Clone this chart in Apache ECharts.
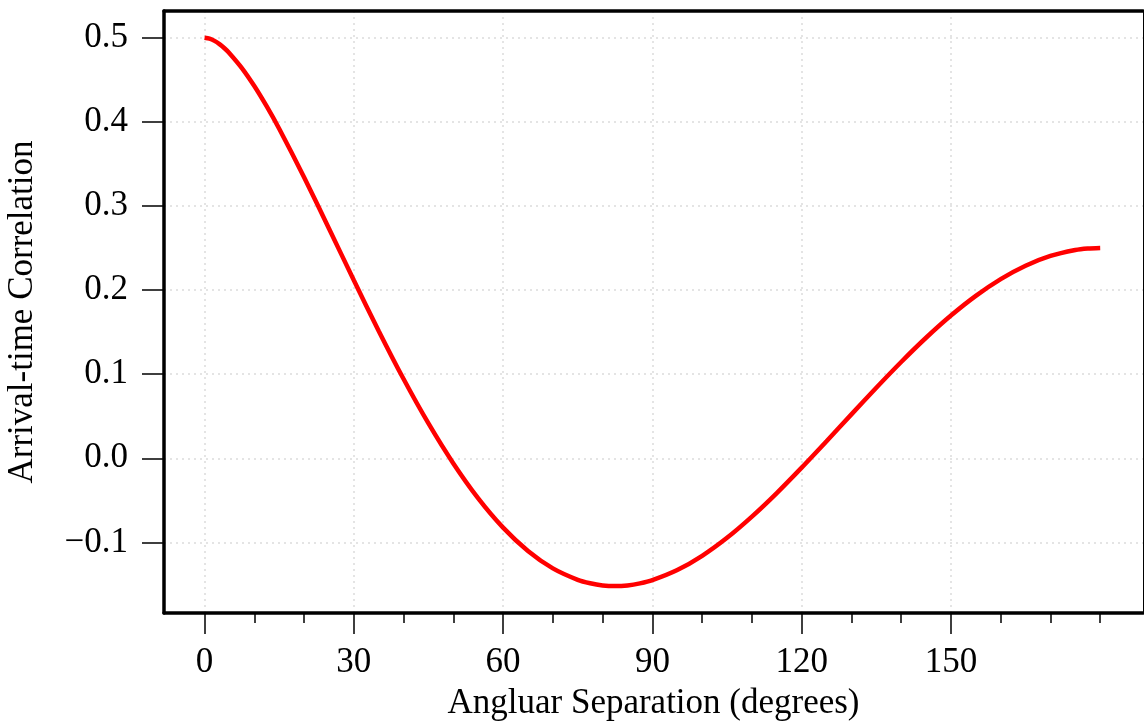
<!DOCTYPE html>
<html>
<head>
<meta charset="utf-8">
<script src="https://cdn.jsdelivr.net/npm/echarts@6/dist/echarts.min.js"></script>
<style>
html,body{margin:0;padding:0;background:#fff;}
#chart{width:1144px;height:723px;}
</style>
</head>
<body>
<div id="chart"></div>
<script>
var angles = [0,1,2,3,4,5,7.5,10,12.5,15,20,25,30,35,40,45,50,55,60,65,70,75,77.5,80,82.5,85,87.5,90,95,100,105,110,115,120,125,130,135,140,145,150,155,160,165,170,175,177.5,180];
var correlation = [0.5,0.4989,0.4962,0.4923,0.4874,0.4816,0.4639,0.4425,0.4182,0.3917,0.3341,0.2732,0.2116,0.1514,0.0942,0.0414,-0.0061,-0.0476,-0.0824,-0.1102,-0.1309,-0.1445,-0.1486,-0.1511,-0.1519,-0.1511,-0.1487,-0.1449,-0.1329,-0.1159,-0.0945,-0.0693,-0.0413,-0.0111,0.0203,0.0522,0.0839,0.1145,0.1433,0.1697,0.1931,0.2130,0.2289,0.2405,0.2476,0.2494,0.25];
var xMajorTicks = [0,30,60,90,120,150];
var xMinorTicks = [10,20,40,50,70,80,100,110,130,140,160,170,180];
var yTicks = [-0.1,0,0.1,0.2,0.3,0.4,0.5];
var xTitle = 'Angluar Separation (degrees)';
var yTitle = 'Arrival-time Correlation';

var FONT = '"Liberation Serif", "DejaVu Serif", serif';
var FS = 35;
var XMIN = -8.15, XMAX = 188.6, YMIN = -0.1839, YMAX = 0.5317;

var chart = echarts.init(document.getElementById('chart'), null, {renderer:'canvas'});
var data = angles.map(function(a,i){return [a, correlation[i]];});
var gridLine = {show:true, lineStyle:{color:'#dcdcdc', width:1.5, type:[2,4]}};

chart.setOption({
  backgroundColor:'#fff',
  animation:false,
  grid:{left:164, right:1, top:11, bottom:110, containLabel:false, outerBoundsMode:'none'},
  xAxis:[
    {type:'value', position:'bottom', min:XMIN, max:XMAX,
     axisLine:{show:true, onZero:false, lineStyle:{color:'#000', width:3.5}},
     axisTick:{show:true, inside:false, length:21, customValues:xMajorTicks, lineStyle:{color:'#000', width:1.5}},
     axisLabel:{show:true, customValues:xMajorTicks, margin:32, color:'#000', fontFamily:FONT, fontSize:FS},
     splitLine:gridLine,
     name:xTitle, nameLocation:'middle', nameGap:73,
     nameTextStyle:{color:'#000', fontFamily:FONT, fontSize:FS}},
    {type:'value', position:'bottom', min:XMIN, max:XMAX,
     axisLine:{show:false, onZero:false},
     axisTick:{show:true, length:10, customValues:xMinorTicks, lineStyle:{color:'#000', width:1.5}},
     axisLabel:{show:false}, splitLine:{show:false}},
    {type:'value', position:'top', min:XMIN, max:XMAX,
     axisLine:{show:true, onZero:false, lineStyle:{color:'#000', width:3.5}},
     axisTick:{show:false}, axisLabel:{show:false}, splitLine:{show:false}}
  ],
  yAxis:[
    {type:'value', position:'left', min:YMIN, max:YMAX,
     axisLine:{show:true, onZero:false, lineStyle:{color:'#000', width:3.5}},
     axisTick:{show:true, length:22, customValues:yTicks, lineStyle:{color:'#000', width:1.5}},
     axisLabel:{show:true, customValues:yTicks, margin:36, color:'#000', fontFamily:FONT, fontSize:FS,
       formatter:function(v){ return v < 0 ? '\u2212' + (-v).toFixed(1) : v.toFixed(1); }},
     splitLine:gridLine,
     name:yTitle, nameLocation:'middle', nameGap:124, nameRotate:90,
     nameTextStyle:{color:'#000', fontFamily:FONT, fontSize:FS}},
    {type:'value', position:'right', min:YMIN, max:YMAX,
     axisLine:{show:true, onZero:false, lineStyle:{color:'#000', width:1}},
     axisTick:{show:false}, axisLabel:{show:false}, splitLine:{show:false}}
  ],
  series:[{
    type:'line', xAxisIndex:0, yAxisIndex:0, data:data, smooth:0.25,
    showSymbol:false, symbol:'none',
    lineStyle:{color:'#ff0000', width:4.5, cap:'butt'}
  }]
});
</script>
</body>
</html>
